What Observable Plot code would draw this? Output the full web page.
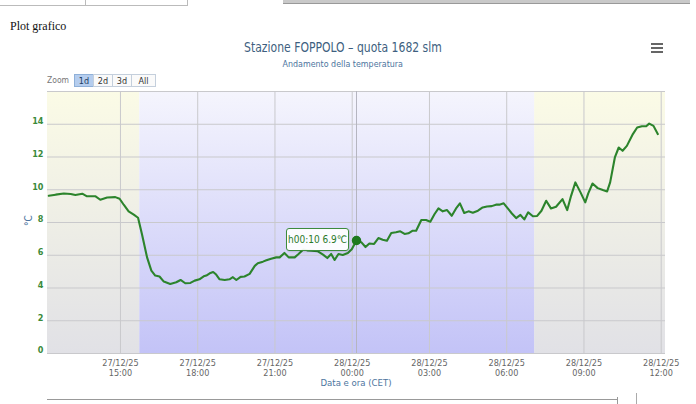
<!DOCTYPE html>
<html><head><meta charset="utf-8">
<script src="https://cdn.jsdelivr.net/npm/d3@7"></script>
<script src="https://cdn.jsdelivr.net/npm/@observablehq/plot@0.6"></script>
<style>
  body{margin:0;width:696px;height:404px;overflow:hidden;background:#fff;position:relative;
       font-family:"DejaVu Sans Condensed","DejaVu Sans",sans-serif;}
  .abs{position:absolute;white-space:nowrap;}
  #chart{position:absolute;left:0;top:0;}
  .btn{position:absolute;top:0;height:13px;line-height:13px;font-size:9px;color:#333;background:#fafafa;text-align:center;
       border:1px solid #c4cfdc;box-sizing:border-box;}
  .btn.sel{background:#b5cdee;color:#1d3c63;border-color:#8fb0d8;}
</style></head><body>
<div class="abs" style="left:-1px;top:-9px;width:85px;height:13px;border:1px solid #bbb;"></div>
<div class="abs" style="left:85px;top:-9px;width:101px;height:13px;border:1px solid #bbb;"></div>
<div class="abs" style="left:283px;top:-6px;width:407px;height:9px;background:#c9c9c9;border-bottom:1px solid #999;"></div>
<div class="abs" style="left:10px;top:19px;font-family:'Liberation Serif',serif;font-size:12px;color:#111;">Plot grafico</div>
<div class="abs" style="left:0;top:37px;width:686px;text-align:center;"><span style="display:inline-block;font-size:14px;color:#3e5f80;transform:scaleX(0.86);">Stazione FOPPOLO – quota 1682 slm</span></div>
<div class="abs" style="left:0;top:52px;width:686px;text-align:center;"><span style="display:inline-block;font-size:9.5px;color:#4d759e;transform:scaleX(0.93);">Andamento della temperatura</span></div>
<div class="abs" style="left:651px;top:43px;width:12px;height:2px;background:#666;"></div>
<div class="abs" style="left:651px;top:47px;width:12px;height:2px;background:#666;"></div>
<div class="abs" style="left:651px;top:51px;width:12px;height:2px;background:#666;"></div>
<div class="abs" style="left:47px;top:74px;font-size:8.5px;color:#777;line-height:13px;">Zoom</div>
<div class="abs" id="zoombtns" style="left:74px;top:74px;"></div>
<div class="abs" style="left:23px;top:215px;font-size:10px;color:#4d759e;transform:rotate(-90deg);">°C</div>
<div class="abs" style="left:47px;top:377px;width:618px;text-align:center;font-size:9.5px;color:#4d759e;font-weight:500;">Data e ora (CET)</div>
<div class="abs" style="left:47px;top:399px;width:570px;height:1px;background:#999;"></div>
<div class="abs" style="left:617px;top:397px;width:1px;height:10px;background:#999;"></div>
<div class="abs" style="left:636px;top:393px;width:1px;height:12px;background:#aaa;"></div>
<div id="chart"></div>
<div class="abs" id="tip" style="font-size:10px;color:#2a7a2a;background:rgba(255,255,255,0.92);border:1px solid #3d8b3d;border-radius:3px;box-sizing:border-box;width:63px;height:23px;line-height:21px;text-align:center;box-shadow:1px 1px 2px rgba(0,0,0,0.15);"><span id="tiptext" style="display:inline-block;"></span></div>
<script>
const zoomButtons = ["1d","2d","3d","All"];
const selectedZoom = "1d";

const times = [
  "2025-12-27T12:13","2025-12-27T12:29","2025-12-27T12:48","2025-12-27T13:04","2025-12-27T13:15",
  "2025-12-27T13:31","2025-12-27T13:42","2025-12-27T14:02","2025-12-27T14:13","2025-12-27T14:29",
  "2025-12-27T14:48","2025-12-27T14:58","2025-12-27T15:08","2025-12-27T15:19","2025-12-27T15:31",
  "2025-12-27T15:41","2025-12-27T15:50","2025-12-27T16:02","2025-12-27T16:12","2025-12-27T16:21",
  "2025-12-27T16:31","2025-12-27T16:41","2025-12-27T16:56","2025-12-27T17:10","2025-12-27T17:20",
  "2025-12-27T17:31","2025-12-27T17:43","2025-12-27T17:53","2025-12-27T18:04","2025-12-27T18:14",
  "2025-12-27T18:20","2025-12-27T18:28","2025-12-27T18:36","2025-12-27T18:43","2025-12-27T18:51",
  "2025-12-27T19:03","2025-12-27T19:14","2025-12-27T19:22","2025-12-27T19:30","2025-12-27T19:40",
  "2025-12-27T19:49","2025-12-27T20:01","2025-12-27T20:13","2025-12-27T20:20","2025-12-27T20:32",
  "2025-12-27T20:40","2025-12-27T20:51","2025-12-27T21:03","2025-12-27T21:11","2025-12-27T21:22",
  "2025-12-27T21:32","2025-12-27T21:46","2025-12-27T21:55","2025-12-27T22:06","2025-12-27T22:15",
  "2025-12-27T22:25","2025-12-27T22:40","2025-12-27T22:52","2025-12-27T23:02","2025-12-27T23:11",
  "2025-12-27T23:19","2025-12-27T23:28","2025-12-27T23:38","2025-12-27T23:50","2025-12-27T23:59",
  "2025-12-28T00:10","2025-12-28T00:21","2025-12-28T00:31","2025-12-28T00:40","2025-12-28T00:51",
  "2025-12-28T01:01","2025-12-28T01:11","2025-12-28T01:21","2025-12-28T01:31","2025-12-28T01:42",
  "2025-12-28T01:52","2025-12-28T02:02","2025-12-28T02:11","2025-12-28T02:21","2025-12-28T02:29",
  "2025-12-28T02:41","2025-12-28T02:52","2025-12-28T03:02","2025-12-28T03:12","2025-12-28T03:21",
  "2025-12-28T03:31","2025-12-28T03:41","2025-12-28T03:52","2025-12-28T04:02","2025-12-28T04:11",
  "2025-12-28T04:21","2025-12-28T04:31","2025-12-28T04:41","2025-12-28T04:53","2025-12-28T05:04",
  "2025-12-28T05:14","2025-12-28T05:25","2025-12-28T05:35","2025-12-28T05:43","2025-12-28T05:53",
  "2025-12-28T06:02","2025-12-28T06:12","2025-12-28T06:22","2025-12-28T06:32","2025-12-28T06:41",
  "2025-12-28T06:50","2025-12-28T07:01","2025-12-28T07:11","2025-12-28T07:21","2025-12-28T07:32",
  "2025-12-28T07:43","2025-12-28T07:55","2025-12-28T08:10","2025-12-28T08:21","2025-12-28T08:30",
  "2025-12-28T08:40","2025-12-28T08:52","2025-12-28T09:03","2025-12-28T09:10","2025-12-28T09:20",
  "2025-12-28T09:32","2025-12-28T09:44","2025-12-28T09:54","2025-12-28T10:01","2025-12-28T10:12",
  "2025-12-28T10:21","2025-12-28T10:30","2025-12-28T10:40","2025-12-28T10:54","2025-12-28T11:04",
  "2025-12-28T11:15","2025-12-28T11:25","2025-12-28T11:32","2025-12-28T11:42","2025-12-28T11:52"
];
const temps = [
  9.63,9.70,9.77,9.74,9.68, 9.76,9.60,9.60,9.39,9.53, 9.55,9.45,9.07,8.68,8.48,
  8.29,7.30,5.87,5.06,4.76, 4.70,4.39,4.25,4.35,4.49, 4.29,4.31,4.45,4.53,4.71,
  4.76,4.90,4.98,4.82,4.53, 4.49,4.53,4.66,4.49,4.68, 4.70,4.86,5.35,5.51,5.61,
  5.69,5.79,5.87,5.87,6.14, 5.87,5.87,6.08,6.35,6.30, 6.28,6.24,6.04,5.83,6.08,
  5.71,6.08,6.02,6.14,6.36, 6.90,6.80,6.50,6.72,6.69, 7.05,6.95,6.89,7.36,7.40,
  7.46,7.30,7.34,7.50,7.50, 8.15,8.15,8.05,8.52,8.86, 8.68,8.76,8.41,8.86,9.17,
  8.58,8.68,8.60,8.72,8.92, 8.98,9.00,9.09,9.09,9.17, 8.88,8.55,8.27,8.46,8.19,
  8.62,8.38,8.40,8.72,9.33, 8.86,8.96,9.43,8.76,9.63, 10.45,9.84,9.23,9.78,10.38,
  10.10,9.98,9.90,10.45,11.97, 12.58,12.38,12.68,13.40,13.80, 13.88,13.88,14.04,13.90,13.40
];

const xDomain = ["2025-12-27T12:10","2025-12-28T12:10"];
const xTicks = ["2025-12-27T15:00","2025-12-27T18:00","2025-12-27T21:00","2025-12-28T00:00",
                "2025-12-28T03:00","2025-12-28T06:00","2025-12-28T09:00","2025-12-28T12:00"];
const yDomain = [0, 16];
const yTicks = [0, 2, 4, 6, 8, 10, 12, 14];
const yGrid = [0, 2, 4, 6, 8, 10, 12, 14, 16];
const dayBands = [["2025-12-27T12:10","2025-12-27T15:45"],["2025-12-28T07:05","2025-12-28T12:10"]];
const nightBands = [["2025-12-27T15:45","2025-12-28T07:05"]];
const hoverTime = "2025-12-28T00:10";
const hoverLabel = "h00:10 6.9℃";

const utc = s => new Date(s + ":00Z");
const data = times.map((t, i) => ({t: utc(t), v: temps[i]}));
const toBand = b => ({start: utc(b[0]), end: utc(b[1])});
const hover = data.find(d => +d.t === +utc(hoverTime));
const fmt = d3.utcFormat("%d/%m/%y\n%H:%M");

const SVGNS = "http://www.w3.org/2000/svg";
function grad(id, stops) {
  const g = document.createElementNS(SVGNS, "linearGradient");
  g.setAttribute("id", id);
  g.setAttribute("x1", "0"); g.setAttribute("y1", "0");
  g.setAttribute("x2", "0"); g.setAttribute("y2", "1");
  for (const [o, c] of stops) {
    const s = document.createElementNS(SVGNS, "stop");
    s.setAttribute("offset", o); s.setAttribute("stop-color", c);
    g.appendChild(s);
  }
  return g;
}
const defsMark = () => {
  const defs = document.createElementNS(SVGNS, "defs");
  defs.appendChild(grad("gDay", [["0", "#fbfbe6"], ["1", "#e1e1e6"]]));
  defs.appendChild(grad("gNight", [["0", "#f5f5fd"], ["1", "#c3c3f7"]]));
  return defs;
};

const plot = Plot.plot({
  width: 696, height: 404,
  marginLeft: 47, marginRight: 31, marginTop: 91, marginBottom: 51,
  style: {fontFamily: "'DejaVu Sans Condensed','DejaVu Sans',sans-serif", background: "transparent"},
  x: {type: "utc", domain: xDomain.map(utc)},
  y: {domain: yDomain},
  marks: [
    defsMark,
    Plot.rect(dayBands.map(toBand), {x1: "start", x2: "end", fill: "url(#gDay)"}),
    Plot.rect(nightBands.map(toBand), {x1: "start", x2: "end", fill: "url(#gNight)"}),
    Plot.gridY(yGrid, {stroke: "#c9c9cc", strokeOpacity: 1}),
    Plot.gridX(xTicks.map(utc), {stroke: "#c9c9cc", strokeOpacity: 1}),
    Plot.ruleX([hover], {x: "t", stroke: "#b5b5c0", strokeWidth: 1}),
    Plot.axisY(yTicks, {tickSize: 0, tickPadding: 4, dy: -3, color: "#3a8a3a", fontWeight: "bold", fontSize: 9, label: null}),
    Plot.axisX(xTicks.map(utc), {tickSize: 0, tickPadding: 5, tickFormat: fmt, color: "#666", fontSize: 9, lineHeight: 1.15, label: null}),
    Plot.line(data, {x: "t", y: "v", stroke: "#2c842c", strokeWidth: 2.1, strokeLinejoin: "round"}),
    Plot.dot([hover], {x: "t", y: "v", r: 4, fill: "#1e7a1e", stroke: "#1e7a1e"})
  ]
});
document.getElementById("chart").appendChild(plot);

// zoom buttons
const zb = document.getElementById("zoombtns");
const btnWidths = [20, 20, 20, 25];
let bx = 0;
zoomButtons.forEach((b, i) => {
  const s = document.createElement("span");
  s.className = "btn" + (b === selectedZoom ? " sel" : "");
  s.style.left = bx + "px";
  s.style.width = btnWidths[i] + "px";
  bx += btnWidths[i] - 1;
  s.textContent = b;
  zb.appendChild(s);
});

// tooltip positioned from the plot's own scales
const px = plot.scale("x").apply(hover.t);
const py = plot.scale("y").apply(hover.v);
const tip = document.getElementById("tip");
document.getElementById("tiptext").textContent = hoverLabel;
const w = tip.offsetWidth, h = tip.offsetHeight;
tip.style.left = (px - 7 - w) + "px";
tip.style.top = (py - 1 - h / 2) + "px";
</script>
</body></html>
